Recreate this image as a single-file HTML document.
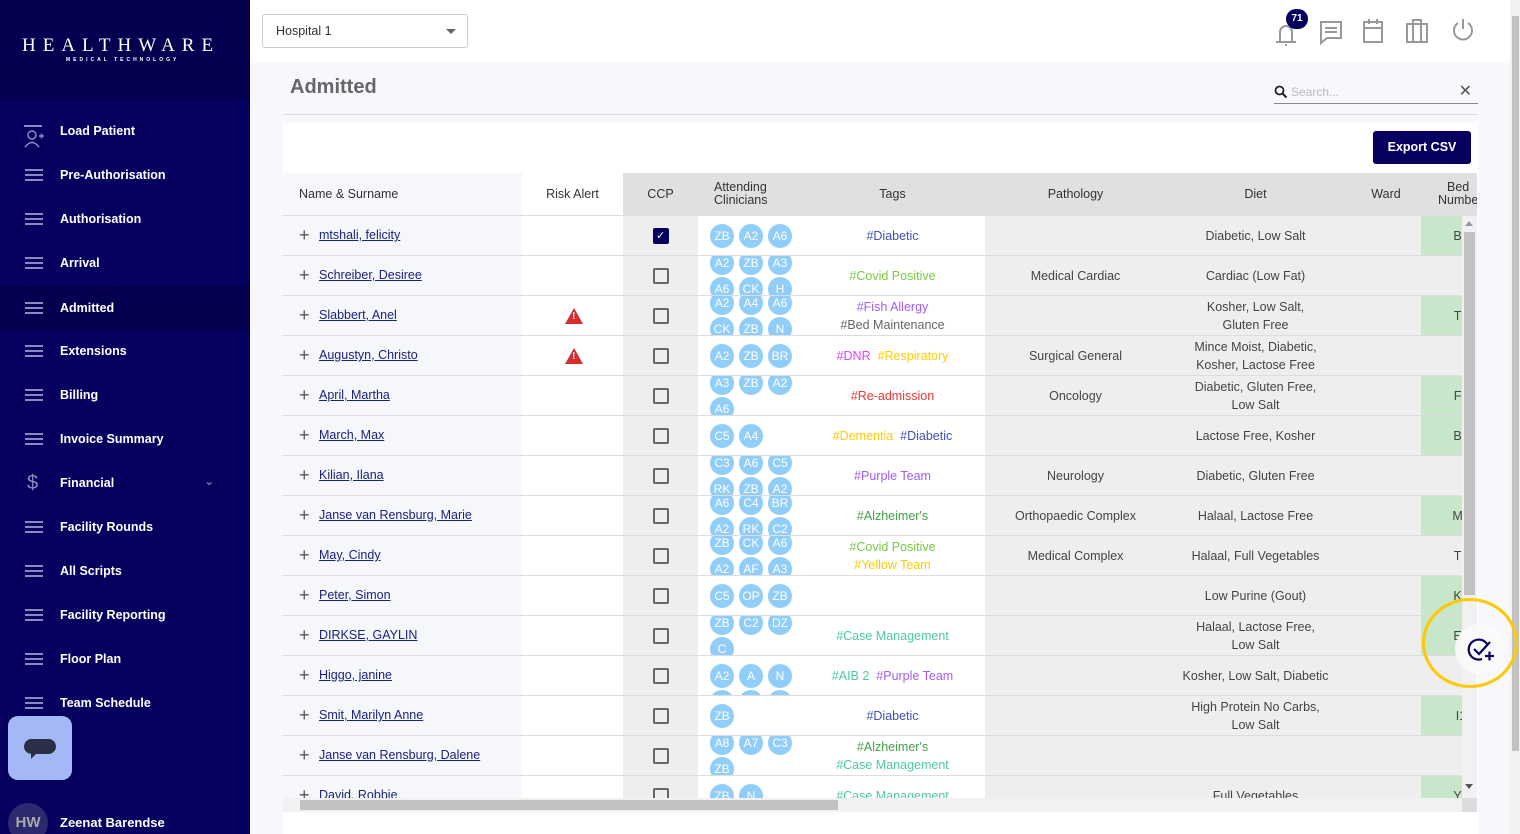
<!DOCTYPE html>
<html><head><meta charset="utf-8"><style>
*{box-sizing:border-box;margin:0;padding:0}
html,body{width:1520px;height:834px;overflow:hidden}
body{background:#f7f8fc;font-family:"Liberation Sans",sans-serif;position:relative;color:#333}
.sb{position:absolute;left:0;top:0;width:250px;height:834px;background:#06005f}
.logo{position:absolute;left:0;top:0;width:250px;height:100px;background:#04004f;color:#fff}
.nav{position:absolute;left:0;width:250px;height:44px;color:#fff;font-size:12.5px;font-weight:bold;line-height:44px}
.nav span{position:absolute;left:60px}
.nav i{position:absolute;left:25px;top:16px;width:18px;height:12px;border-top:2px solid #8a8ac0;border-bottom:2px solid #8a8ac0}
.nav i:after{content:"";position:absolute;left:0;top:3px;width:18px;height:2px;background:#8a8ac0}
.top{position:absolute;left:250px;top:0;width:1260px;height:63px;background:#fff}
.abs{position:absolute}
.tbl{position:absolute;left:283px;top:173px;width:1194px;height:625px;overflow:hidden;background:#fff}
.r{position:absolute;left:0;width:1194px;height:40px;border-bottom:1px solid #ddd;font-size:12.5px;background:#ddd}
.r>div{position:absolute;top:0;height:39px;overflow:hidden}
.nm{left:0;width:239px;background:#f6f7fb}
.nm a{position:absolute;left:36px;top:12px;color:#1a237e;text-decoration:underline}
.nm b{position:absolute;left:16px;top:9px;font-weight:normal;font-size:18px;color:#555}
.rk{left:239px;width:101px;background:#fff}
.cc{left:340px;width:75px;background:#eee}
.cc u{position:absolute;left:30px;top:12px;width:16px;height:16px;border:2px solid #666;border-radius:2px}
.cl{left:415px;width:102px;background:#fff}
.cl s{position:absolute;width:24px;height:24px;border-radius:50%;background:#90cdf9;color:#fff;text-decoration:none;font-size:12px;line-height:24px;text-align:center}
.tg{left:517px;width:185px;background:#fff;text-align:center;display:flex;flex-direction:column;justify-content:center;line-height:18px}
.pa{left:702px;width:181px;background:#eee;text-align:center;line-height:40px;color:#444}
.di{left:883px;width:179px;background:#eee;text-align:center;display:flex;flex-direction:column;justify-content:center;line-height:18px;color:#444}
.wa{left:1062px;width:76px;background:#eee}
.bd{left:1138px;width:80px;background:#eee;text-align:center;line-height:40px;color:#444}
.g{background:#c8e6c9!important}
.hd{position:absolute;top:0;height:43px;font-size:12.5px;color:#333;display:flex;align-items:center;justify-content:center;text-align:center;line-height:13px;background:#e0e0e0;border-bottom:1px solid #ddd}
.tri{position:absolute;left:43px;top:12px;width:0;height:0;border-left:9px solid transparent;border-right:9px solid transparent;border-bottom:16px solid #d32f2f}
.tri:after{content:"!";position:absolute;left:-2px;top:3px;color:#fff;font-size:10px;font-weight:bold}
.blue{color:#3f51b5}.grn{color:#7ac943}.pur{color:#a35cf5}.gry{color:#666}.mag{color:#e040fb}.yel{color:#ffcc00}.red{color:#e53935}.dg{color:#43a047}.tea{color:#4dc9a0}
</style></head><body>
<div class="sb">
 <div class="logo"><div style="position:absolute;left:22px;top:35px;font-family:'Liberation Serif',serif;font-size:19px;letter-spacing:7px;white-space:nowrap">HEALTHWARE</div><div style="position:absolute;left:66px;top:57px;font-size:5px;letter-spacing:3px;font-weight:bold;white-space:nowrap">MEDICAL TECHNOLOGY</div></div>
 <div class="nav" style="top:109px"><i style="border:none;left:24px;top:13px;width:20px;height:18px"><svg width="20" height="18"><circle cx="8" cy="5" r="4" fill="none" stroke="#8a8ac0" stroke-width="1.5"/><path d="M1 17 Q8 8 15 17" fill="none" stroke="#8a8ac0" stroke-width="1.5"/><path d="M15 6h5M17.5 3.5v5" stroke="#8a8ac0" stroke-width="1.5"/></svg></i><span>Load Patient</span></div>
 <div class="nav" style="top:153px"><i></i><span>Pre-Authorisation</span></div>
 <div class="nav" style="top:197px"><i></i><span>Authorisation</span></div>
 <div class="nav" style="top:241px"><i></i><span>Arrival</span></div>
 <div class="nav" style="top:286px;background:#04004f"><i></i><span>Admitted</span></div>
 <div class="nav" style="top:329px"><i></i><span>Extensions</span></div>
 <div class="nav" style="top:373px"><i></i><span>Billing</span></div>
 <div class="nav" style="top:417px"><i></i><span>Invoice Summary</span></div>
 <div class="nav" style="top:461px"><b style="position:absolute;left:27px;font-size:20px;color:#8a8ac0;font-weight:normal">$</b><span>Financial</span><b style="position:absolute;left:204px;top:-2px;color:#8a8ac0;font-weight:normal">⌄</b></div>
 <div class="nav" style="top:505px"><i></i><span>Facility Rounds</span></div>
 <div class="nav" style="top:549px"><i></i><span>All Scripts</span></div>
 <div class="nav" style="top:593px"><i></i><span>Facility Reporting</span></div>
 <div class="nav" style="top:637px"><i></i><span>Floor Plan</span></div>
 <div class="nav" style="top:681px"><i></i><span>Team Schedule</span></div>
 <div class="abs" style="left:8px;top:716px;width:64px;height:64px;border-radius:10px;background:#a4b8f5"><div class="abs" style="left:16px;top:23px;width:32px;height:15px;border-radius:8px;background:#2a2f45"></div><div class="abs" style="left:23px;top:38px;border-top:5px solid #2a2f45;border-right:5px solid transparent"></div></div>
 <div class="abs" style="left:8px;top:803px;width:40px;height:40px;border-radius:50%;background:#2b2a6e;color:#aaa;font-weight:bold;font-size:15px;text-align:center;line-height:40px">HW</div>
 <div class="abs" style="left:60px;top:815px;color:#fff;font-size:13px;font-weight:bold">Zeenat Barendse</div>
</div>
<div class="top">
 <div class="abs" style="left:12px;top:14px;width:206px;height:34px;border:1px solid #ccc;border-radius:3px;font-size:12.5px;line-height:32px;padding-left:13px;color:#333">Hospital 1<div class="abs" style="right:11px;top:14px;border-top:5px solid #666;border-left:5px solid transparent;border-right:5px solid transparent"></div></div>
 <svg class="abs" style="left:1020px;top:8px" width="240" height="40" fill="none" stroke="#999" stroke-width="2">
  <path d="M6 34h20M10 34V24a6 6 0 0 1 12 0v10M16 36v2"/>
  <path d="M51 14h20v16H57l-6 5z M55 20h12M55 24h12"/>
  <rect x="94" y="14" width="18" height="20"/><path d="M94 20h18M99 11v5M107 11v5"/>
  <rect x="137" y="16" width="20" height="18"/><path d="M143 16v-4h8v4M143 16v18M151 16v18"/>
  <path d="M188 15a9 9 0 1 0 10 0M193 11v10"/>
 </svg>
 <div class="abs" style="left:1036px;top:9px;width:22px;height:20px;border-radius:10px;background:#06005f;color:#fff;font-size:10px;font-weight:bold;text-align:center;line-height:20px">71</div>
</div>
<div class="abs" style="left:1510px;top:0;width:10px;height:834px;background:#f1f1f1"><div class="abs" style="left:2px;top:16px;width:7px;height:735px;background:#c1c1c1"></div></div>
<div class="abs" style="left:290px;top:76px;font-size:20px;font-weight:bold;color:#666">Admitted</div>
<div class="abs" style="left:283px;top:114px;width:1195px;height:1px;background:#ddd"></div>
<div class="abs" style="left:1274px;top:84px;width:204px;height:20px;border-bottom:1px solid #888;font-size:12px;color:#bbb;padding-left:17px;line-height:16px">Search...<svg class="abs" style="left:0;top:1px" width="14" height="14"><circle cx="5.5" cy="5.5" r="4" fill="none" stroke="#222" stroke-width="1.8"/><path d="M8.5 8.5l4 4" stroke="#222" stroke-width="2"/></svg><span class="abs" style="right:6px;top:0;color:#555;font-size:16px">✕</span></div>
<div class="abs" style="left:283px;top:123px;width:1195px;height:711px;background:#fff"></div>
<div class="abs" style="left:1373px;top:131px;width:98px;height:33px;background:#06005f;border-radius:3px;color:#fff;font-size:12.5px;font-weight:bold;text-align:center;line-height:33px">Export CSV</div>
<div class="tbl">
 <div class="hd" style="left:0;width:239px;background:#f6f7fb;justify-content:flex-start;padding-left:16px">Name &amp; Surname</div>
 <div class="hd" style="left:239px;width:101px;background:#fff">Risk Alert</div>
 <div class="hd" style="left:340px;width:75px">CCP</div>
 <div class="hd" style="left:415px;width:102px;justify-content:flex-start;padding-left:16px;text-align:left">Attending<br>Clinicians</div>
 <div class="hd" style="left:517px;width:185px">Tags</div>
 <div class="hd" style="left:702px;width:181px">Pathology</div>
 <div class="hd" style="left:883px;width:179px">Diet</div>
 <div class="hd" style="left:1062px;width:82px">Ward</div>
 <div class="hd" style="left:1144px;width:50px;justify-content:flex-start;padding-left:11px;text-align:center">Bed<br>Numbe</div>

 <div class="r" style="top:43px"><div class="nm"><b>+</b><a>mtshali, felicity</a></div><div class="rk"></div><div class="cc"><u style="background:#06005f;border-color:#06005f"><span style="color:#fff;font-size:11px;position:absolute;left:1px;top:-1px">✓</span></u></div><div class="cl"><s style="left:12px;top:8px">ZB</s><s style="left:41px;top:8px">A2</s><s style="left:70px;top:8px">A6</s></div><div class="tg"><span class="blue">#Diabetic</span></div><div class="pa"></div><div class="di">Diabetic, Low Salt</div><div class="wa"></div><div class="bd g">B1</div></div>
 <div class="r" style="top:83px"><div class="nm"><b>+</b><a>Schreiber, Desiree</a></div><div class="rk"></div><div class="cc"><u></u></div><div class="cl"><s style="left:12px;top:-5px">A2</s><s style="left:41px;top:-5px">ZB</s><s style="left:70px;top:-5px">A3</s><s style="left:12px;top:21px">A6</s><s style="left:41px;top:21px">CK</s><s style="left:70px;top:21px">H</s></div><div class="tg"><span class="grn">#Covid Positive</span></div><div class="pa">Medical Cardiac</div><div class="di">Cardiac (Low Fat)</div><div class="wa"></div><div class="bd"></div></div>
 <div class="r" style="top:123px"><div class="nm"><b>+</b><a>Slabbert, Anel</a></div><div class="rk"><div class="tri"></div></div><div class="cc"><u></u></div><div class="cl"><s style="left:12px;top:-5px">A2</s><s style="left:41px;top:-5px">A4</s><s style="left:70px;top:-5px">A6</s><s style="left:12px;top:21px">CK</s><s style="left:41px;top:21px">ZB</s><s style="left:70px;top:21px">N</s></div><div class="tg"><span class="pur">#Fish Allergy</span><span class="gry">#Bed Maintenance</span></div><div class="pa"></div><div class="di">Kosher, Low Salt,<br>Gluten Free</div><div class="wa"></div><div class="bd g">T1</div></div>
 <div class="r" style="top:163px"><div class="nm"><b>+</b><a>Augustyn, Christo</a></div><div class="rk"><div class="tri"></div></div><div class="cc"><u></u></div><div class="cl"><s style="left:12px;top:8px">A2</s><s style="left:41px;top:8px">ZB</s><s style="left:70px;top:8px">BR</s></div><div class="tg"><span><span class="mag">#DNR</span>&nbsp; <span class="yel">#Respiratory</span></span></div><div class="pa">Surgical General</div><div class="di">Mince Moist, Diabetic,<br>Kosher, Lactose Free</div><div class="wa"></div><div class="bd"></div></div>
 <div class="r" style="top:203px"><div class="nm"><b>+</b><a>April, Martha</a></div><div class="rk"></div><div class="cc"><u></u></div><div class="cl"><s style="left:12px;top:-5px">A3</s><s style="left:41px;top:-5px">ZB</s><s style="left:70px;top:-5px">A2</s><s style="left:12px;top:21px">A6</s></div><div class="tg"><span class="red">#Re-admission</span></div><div class="pa">Oncology</div><div class="di">Diabetic, Gluten Free,<br>Low Salt</div><div class="wa"></div><div class="bd g">F1</div></div>
 <div class="r" style="top:243px"><div class="nm"><b>+</b><a>March, Max</a></div><div class="rk"></div><div class="cc"><u></u></div><div class="cl"><s style="left:12px;top:8px">C5</s><s style="left:41px;top:8px">A4</s></div><div class="tg"><span><span class="yel">#Dementia</span>&nbsp; <span class="blue">#Diabetic</span></span></div><div class="pa"></div><div class="di">Lactose Free, Kosher</div><div class="wa"></div><div class="bd g">B1</div></div>
 <div class="r" style="top:283px"><div class="nm"><b>+</b><a>Kilian, Ilana</a></div><div class="rk"></div><div class="cc"><u></u></div><div class="cl"><s style="left:12px;top:-5px">C3</s><s style="left:41px;top:-5px">A6</s><s style="left:70px;top:-5px">C5</s><s style="left:12px;top:21px">RK</s><s style="left:41px;top:21px">ZB</s><s style="left:70px;top:21px">A2</s></div><div class="tg"><span class="pur">#Purple Team</span></div><div class="pa">Neurology</div><div class="di">Diabetic, Gluten Free</div><div class="wa"></div><div class="bd"></div></div>
 <div class="r" style="top:323px"><div class="nm"><b>+</b><a>Janse van Rensburg, Marie</a></div><div class="rk"></div><div class="cc"><u></u></div><div class="cl"><s style="left:12px;top:-5px">A6</s><s style="left:41px;top:-5px">C4</s><s style="left:70px;top:-5px">BR</s><s style="left:12px;top:21px">A2</s><s style="left:41px;top:21px">RK</s><s style="left:70px;top:21px">C2</s></div><div class="tg"><span class="dg">#Alzheimer's</span></div><div class="pa">Orthopaedic Complex</div><div class="di">Halaal, Lactose Free</div><div class="wa"></div><div class="bd g">M1</div></div>
 <div class="r" style="top:363px"><div class="nm"><b>+</b><a>May, Cindy</a></div><div class="rk"></div><div class="cc"><u></u></div><div class="cl"><s style="left:12px;top:-5px">ZB</s><s style="left:41px;top:-5px">CK</s><s style="left:70px;top:-5px">A6</s><s style="left:12px;top:21px">A2</s><s style="left:41px;top:21px">AF</s><s style="left:70px;top:21px">A3</s></div><div class="tg"><span class="grn">#Covid Positive</span><span class="yel">#Yellow Team</span></div><div class="pa">Medical Complex</div><div class="di">Halaal, Full Vegetables</div><div class="wa"></div><div class="bd">T1</div></div>
 <div class="r" style="top:403px"><div class="nm"><b>+</b><a>Peter, Simon</a></div><div class="rk"></div><div class="cc"><u></u></div><div class="cl"><s style="left:12px;top:8px">C5</s><s style="left:41px;top:8px">OP</s><s style="left:70px;top:8px">ZB</s></div><div class="tg"></div><div class="pa"></div><div class="di">Low Purine (Gout)</div><div class="wa"></div><div class="bd g">K1</div></div>
 <div class="r" style="top:443px"><div class="nm"><b>+</b><a>DIRKSE, GAYLIN</a></div><div class="rk"></div><div class="cc"><u></u></div><div class="cl"><s style="left:12px;top:-5px">ZB</s><s style="left:41px;top:-5px">C2</s><s style="left:70px;top:-5px">DZ</s><s style="left:12px;top:21px">C</s></div><div class="tg"><span class="tea">#Case Management</span></div><div class="pa"></div><div class="di">Halaal, Lactose Free,<br>Low Salt</div><div class="wa"></div><div class="bd g">E1</div></div>
 <div class="r" style="top:483px"><div class="nm"><b>+</b><a>Higgo, janine</a></div><div class="rk"></div><div class="cc"><u></u></div><div class="cl"><s style="left:12px;top:8px">A2</s><s style="left:41px;top:8px">A</s><s style="left:70px;top:8px">N</s><s style="left:12px;top:34px"></s><s style="left:41px;top:34px"></s><s style="left:70px;top:34px"></s></div><div class="tg"><span><span class="tea">#AIB 2</span>&nbsp; <span class="pur">#Purple Team</span></span></div><div class="pa"></div><div class="di">Kosher, Low Salt, Diabetic</div><div class="wa"></div><div class="bd"></div></div>
 <div class="r" style="top:523px"><div class="nm"><b>+</b><a>Smit, Marilyn Anne</a></div><div class="rk"></div><div class="cc"><u></u></div><div class="cl"><s style="left:12px;top:8px">ZB</s></div><div class="tg"><span class="blue">#Diabetic</span></div><div class="pa"></div><div class="di">High Protein No Carbs,<br>Low Salt</div><div class="wa"></div><div class="bd g">I1</div></div>
 <div class="r" style="top:563px"><div class="nm"><b>+</b><a>Janse van Rensburg, Dalene</a></div><div class="rk"></div><div class="cc"><u></u></div><div class="cl"><s style="left:12px;top:-5px">A8</s><s style="left:41px;top:-5px">A7</s><s style="left:70px;top:-5px">C3</s><s style="left:12px;top:21px">ZB</s></div><div class="tg"><span class="dg">#Alzheimer's</span><span class="tea">#Case Management</span></div><div class="pa"></div><div class="di"></div><div class="wa"></div><div class="bd"></div></div>
 <div class="r" style="top:603px"><div class="nm"><b>+</b><a>David, Robbie</a></div><div class="rk"></div><div class="cc"><u></u></div><div class="cl"><s style="left:12px;top:8px">ZB</s><s style="left:41px;top:8px">N</s></div><div class="tg"><span class="tea">#Case Management</span></div><div class="pa"></div><div class="di">Full Vegetables</div><div class="wa"></div><div class="bd g">Y1</div></div>
 <div class="abs" style="left:1179px;top:43px;width:15px;height:582px;background:#f1f1f1"><div class="abs" style="left:2px;top:16px;width:11px;height:363px;background:#c1c1c1"></div><div class="abs" style="left:3px;top:5px;border-bottom:5px solid #999;border-left:4px solid transparent;border-right:4px solid transparent"></div><div class="abs" style="left:3px;top:568px;border-top:5px solid #555;border-left:4px solid transparent;border-right:4px solid transparent"></div></div>
</div>
<div class="abs" style="left:283px;top:798px;width:1179px;height:14px;background:#f1f1f1"><div class="abs" style="left:17px;top:2px;width:538px;height:10px;background:#c1c1c1"></div></div>
<div class="abs" style="left:1462px;top:798px;width:15px;height:14px;background:#dcdcdc"></div>
<div class="abs" style="left:1455px;top:624px;width:50px;height:50px;border-radius:50%;background:rgba(250,250,250,0.9)"></div>
<svg class="abs" style="left:1466px;top:635px" width="30" height="30"><path d="M21 9 A10 10 0 1 0 16 24" fill="none" stroke="#06005f" stroke-width="2.2"/><path d="M8 14l5 5 11-12" fill="none" stroke="#06005f" stroke-width="2.2"/><path d="M19 21h9M23.5 16.5v9" stroke="#06005f" stroke-width="2.2"/></svg>
<div class="abs" style="left:1422px;top:598px;width:96px;height:90px;border-radius:50%;border:3px solid #ffc800"></div>
</body></html>
